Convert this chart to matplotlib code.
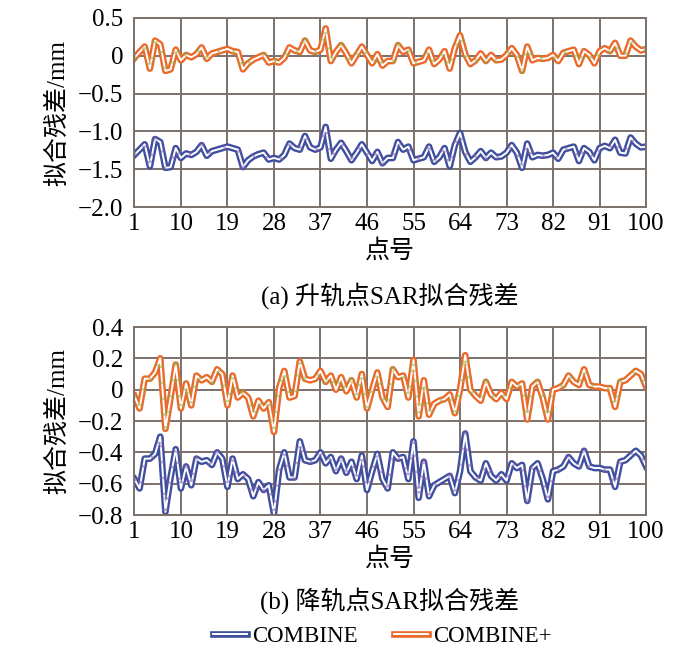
import matplotlib
matplotlib.use("Agg")
import matplotlib.pyplot as plt
import matplotlib.patheffects as pe
import numpy as np

plt.rcParams['font.family'] = ['Liberation Serif', 'Noto Sans CJK SC']
plt.rcParams['axes.unicode_minus'] = True

points = np.arange(1, 101)
xticks = [1, 10, 19, 28, 37, 46, 55, 64, 73, 82, 91, 100]

# (a) ascending track residuals
asc_combine_plus = [
    -0.03, 0.05, 0.12, -0.17, 0.20, 0.15, -0.20, -0.18, 0.08, -0.06,
    0.01, -0.02, 0.02, 0.11, -0.04, 0.03, 0.05, 0.07, 0.09, 0.06,
    0.05, -0.18, -0.10, -0.05, -0.02, 0.01, -0.09, -0.07, -0.09, -0.03,
    0.11, 0.07, 0.05, 0.20, 0.07, 0.05, 0.08, 0.36, -0.07, 0.05,
    0.14, 0.03, -0.10, 0.01, 0.12, 0.01, -0.10, 0.02, -0.13, -0.07,
    -0.07, 0.14, 0.05, 0.08, -0.10, -0.08, -0.06, 0.08, -0.11, -0.05,
    0.06, -0.17, 0.10, 0.27, 0.02, -0.11, -0.06, 0.03, -0.07, 0.01,
    -0.06, -0.05, 0.01, 0.10, 0.01, -0.20, 0.12, -0.06, -0.03, -0.04,
    -0.03, 0.01, -0.07, 0.04, 0.06, 0.08, -0.11, 0.06, 0.01, -0.10,
    0.06, 0.10, 0.06, 0.17, 0.00, 0.00, 0.20, 0.12, 0.07, 0.09]
asc_combine = [
    -1.31, -1.24, -1.17, -1.46, -1.10, -1.14, -1.48, -1.47, -1.22, -1.35,
    -1.29, -1.31, -1.27, -1.18, -1.32, -1.26, -1.24, -1.22, -1.20, -1.22,
    -1.24, -1.47, -1.38, -1.33, -1.30, -1.28, -1.37, -1.35, -1.37, -1.31,
    -1.16, -1.22, -1.24, -1.06, -1.21, -1.24, -1.21, -0.94, -1.36, -1.24,
    -1.15, -1.26, -1.38, -1.28, -1.17, -1.28, -1.39, -1.27, -1.42, -1.35,
    -1.35, -1.14, -1.24, -1.20, -1.38, -1.36, -1.34, -1.20, -1.40, -1.34,
    -1.22, -1.46, -1.18, -1.02, -1.27, -1.40, -1.34, -1.26, -1.35, -1.28,
    -1.34, -1.33, -1.28, -1.18, -1.28, -1.48, -1.16, -1.34, -1.31, -1.32,
    -1.31, -1.28, -1.36, -1.24, -1.22, -1.20, -1.39, -1.22, -1.27, -1.38,
    -1.22, -1.19, -1.22, -1.11, -1.28, -1.29, -1.08, -1.16, -1.21, -1.20]

# (b) descending track residuals
desc_combine_plus = [
    -0.04, -0.12, 0.07, 0.07, 0.11, 0.20, -0.25, -0.05, 0.16, -0.12,
    0.04, -0.10, 0.09, 0.06, 0.08, 0.05, 0.13, 0.10, -0.10, 0.09,
    -0.05, -0.02, -0.05, -0.17, -0.07, -0.12, -0.08, -0.27, 0.01, 0.12,
    -0.05, -0.04, 0.18, 0.07, 0.06, 0.07, 0.12, 0.05, 0.09, 0.00,
    0.08, -0.01, 0.06, -0.05, 0.10, -0.12, 0.00, 0.11, -0.05, -0.11,
    0.13, 0.08, 0.09, -0.05, 0.19, -0.17, 0.06, -0.16, -0.09, -0.07,
    -0.06, -0.03, -0.15, 0.00, 0.22, 0.00, -0.04, -0.07, 0.05, -0.03,
    -0.06, -0.02, -0.06, 0.05, 0.02, 0.04, -0.19, 0.02, 0.05, -0.05,
    -0.19, 0.00, 0.01, 0.03, 0.09, 0.05, 0.03, 0.13, 0.03, 0.02,
    0.02, 0.01, 0.01, -0.11, 0.05, 0.06, 0.09, 0.12, 0.10, 0.02]
desc_combine = [
    -0.57, -0.63, -0.44, -0.44, -0.41, -0.30, -0.78, -0.56, -0.38, -0.63,
    -0.49, -0.61, -0.44, -0.46, -0.45, -0.48, -0.40, -0.44, -0.62, -0.44,
    -0.57, -0.54, -0.57, -0.68, -0.59, -0.64, -0.61, -0.79, -0.51, -0.40,
    -0.56, -0.56, -0.33, -0.45, -0.46, -0.45, -0.40, -0.47, -0.43, -0.52,
    -0.44, -0.53, -0.46, -0.57, -0.42, -0.64, -0.52, -0.41, -0.57, -0.63,
    -0.40, -0.44, -0.43, -0.57, -0.33, -0.69, -0.46, -0.68, -0.61, -0.59,
    -0.57, -0.55, -0.66, -0.52, -0.28, -0.52, -0.56, -0.58, -0.47, -0.55,
    -0.58, -0.54, -0.58, -0.47, -0.50, -0.48, -0.71, -0.50, -0.47, -0.57,
    -0.70, -0.52, -0.51, -0.49, -0.43, -0.47, -0.49, -0.39, -0.49, -0.50,
    -0.50, -0.51, -0.51, -0.62, -0.46, -0.45, -0.42, -0.39, -0.42, -0.49]

blue = "#3f4f9e"
orange = "#ea6a2c"
gridc = "#7b716b"
fs = 18


def band(ax, y, color, label, speck):
    # double line look: coloured wide stroke with a white core
    ax.plot(points, y, color="white", lw=1.4, label=label,
            path_effects=[pe.Stroke(linewidth=4.8, foreground=color), pe.Normal()])
    ax.plot(points, y, color=speck, lw=4.4, ls=(0, (0.4, 2.2)), alpha=0.5)


fig = plt.figure(figsize=(7, 6.62), dpi=100)
ax1 = fig.add_axes([0.192, 0.687, 0.731, 0.286])
ax2 = fig.add_axes([0.192, 0.222, 0.731, 0.284])

band(ax1, asc_combine_plus, orange, "COMBINE+", "#8fa83c")
band(ax1, asc_combine, blue, "COMBINE", "#7a5aa8")
band(ax2, desc_combine_plus, orange, "COMBINE+", "#8fa83c")
band(ax2, desc_combine, blue, "COMBINE", "#7a5aa8")

ax1.set_ylim(-2.0, 0.5)
ax1.set_yticks([0.5, 0, -0.5, -1.0, -1.5, -2.0])
ax1.set_yticklabels(["0.5", "0", "\u22120.5", "\u22121.0", "\u22121.5", "\u22122.0"])
ax2.set_ylim(-0.8, 0.4)
ax2.set_yticks([0.4, 0.2, 0, -0.2, -0.4, -0.6, -0.8])
ax2.set_yticklabels(["0.4", "0.2", "0", "\u22120.2", "\u22120.4", "\u22120.6", "\u22120.8"])

for ax in (ax1, ax2):
    ax.set_xlim(1, 100)
    ax.set_xticks(xticks)
    ax.grid(True, color=gridc, lw=1.4)
    ax.set_axisbelow(True)
    for s in ax.spines.values():
        s.set_color(gridc)
        s.set_linewidth(1.4)
    ax.tick_params(axis="x", length=0, labelsize=fs, pad=4)
    ax.tick_params(axis="y", length=0, labelsize=fs, pad=8)
    ax.set_ylabel("拟合残差/mm", fontsize=fs, labelpad=6)
    ax.set_xlabel("点号", fontsize=fs, labelpad=3)

fig.text(0.557, 0.553, "(a) 升轨点SAR拟合残差", ha="center", va="center", fontsize=fs)
fig.text(0.557, 0.093, "(b) 降轨点SAR拟合残差", ha="center", va="center", fontsize=fs)

h, l = ax2.get_legend_handles_labels()
fig.legend(h[::-1], l[::-1], loc="center", bbox_to_anchor=(0.546, 0.039), ncol=2,
           frameon=False, fontsize=16.5, handlelength=1.5, columnspacing=1.6,
           handletextpad=0.2)

fig.savefig("out.png", dpi=100)
